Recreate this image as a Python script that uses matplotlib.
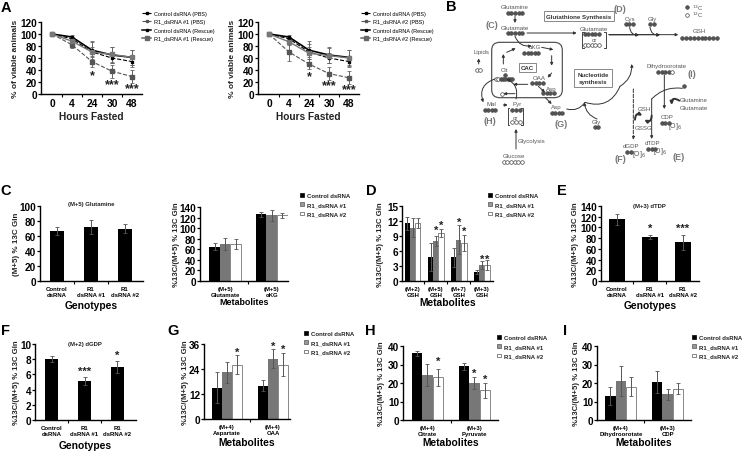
import matplotlib
matplotlib.use("Agg")
import matplotlib.pyplot as plt
from matplotlib.lines import Line2D
from matplotlib.patches import FancyBboxPatch, Patch

plt.rcParams["font.family"] = ["Liberation Sans", "DejaVu Sans"]

W, H = 742, 452
BLACK = "#000000"
GRAY = "#777777"
ERR = "#555555"
TXT = "#555555"

# =========================
# Data
# =========================
hours = ["0", "4", "24", "30", "48"]

a_ctrl_pbs = [100, 92, 70, 60, 54]
a_ctrl_pbs_err = [0, 3, 8, 8, 9]
a_ctrl_res = [100, 95, 73, 65, 61]
a_ctrl_res_err = [0, 3, 15, 13, 13]

a1_r1_pbs = [100, 82, 54, 38, 29]
a1_r1_pbs_err = [0, 5, 9, 11, 11]
a1_r1_res = [100, 88, 70, 66, 61]
a1_r1_res_err = [0, 5, 17, 12, 13]

a2_r1_pbs = [100, 70, 50, 34, 27]
a2_r1_pbs_err = [0, 15, 8, 11, 11]
a2_r1_res = [100, 87, 68, 64, 60]
a2_r1_res_err = [0, 5, 15, 13, 13]

a1_stars = [(2, 32, "*"), (3, 16, "***"), (4, 9, "***")]
a2_stars = [(2, 30, "*"), (3, 15, "***"), (4, 8, "***")]

genotypes = ["Control\ndsRNA", "R1\ndsRNA #1", "R1\ndsRNA #2"]

c1_vals = [67, 72, 70]
c1_err = [5, 9, 6]

c2_cats = ["(M+5)\nGlutamate", "(M+5)\nαKG"]
c2_ctrl = [65, 126]
c2_r1 = [70, 124]
c2_r2 = [70, 124]
c2_ctrl_err = [7, 4]
c2_r1_err = [12, 10]
c2_r2_err = [10, 4]

d_cats = ["(M+2)\nGSH", "(M+5)\nGSH", "(M+7)\nGSH", "(M+3)\nGSH"]
d_ctrl = [11.6, 4.9, 4.8, 1.9]
d_r1 = [10.7, 8.0, 8.3, 3.2]
d_r2 = [11.7, 9.7, 7.7, 3.2]
d_ctrl_err = [1.3, 2.8, 1.9, 0.4]
d_r1_err = [1.9, 1.0, 2.9, 0.8]
d_r2_err = [1.0, 0.8, 1.6, 1.0]
d_stars = [(1, 0, 10.2, "*"), (1, 1, 11.2, "*"), (2, 0, 11.8, "*"), (2, 1, 10.0, "*"),
           (3, 0, 4.4, "*"), (3, 1, 4.4, "*")]

e_vals = [115, 82, 72]
e_err = [11, 3, 14]

f_vals = [8.0, 5.1, 7.0]
f_err = [0.4, 0.5, 0.8]

g_cats = ["(M+4)\nAspartate", "(M+4)\nOAA"]
g_ctrl = [15, 16]
g_r1 = [22.5, 29]
g_r2 = [26, 26]
g_ctrl_err = [7.5, 2.5]
g_r1_err = [5, 4.5]
g_r2_err = [4.5, 5.5]

h_cats = ["(M+4)\nCitrate", "(M+3)\nPyruvate"]
h_ctrl = [36, 29]
h_r1 = [24.5, 20]
h_r2 = [23, 16]
h_ctrl_err = [1.5, 2]
h_r1_err = [6, 3]
h_r2_err = [4.5, 4]

i_cats = ["(M+4)\nDihydroorotate", "(M+3)\nCDP"]
i_ctrl = [13, 20.5]
i_r1 = [21, 14]
i_r2 = [18, 17]
i_ctrl_err = [5, 6]
i_r1_err = [8, 3]
i_r2_err = [5, 3]


fig = plt.figure(figsize=(W / 100, H / 100), dpi=100)


def px_axes(left, top, right, bottom):
    ax = fig.add_axes([left / W, 1 - bottom / H, (right - left) / W, (bottom - top) / H])
    ax.patch.set_alpha(0)
    ax.spines["top"].set_visible(False)
    ax.spines["right"].set_visible(False)
    ax.spines["left"].set_linewidth(1.0)
    ax.spines["bottom"].set_linewidth(1.0)
    return ax


def style_y(ax, ymax, step, ylabel, labelx, size=7.2, labelsize=5.8):
    ax.set_ylim(0, ymax)
    ax.set_yticks(range(0, ymax + 1, step))
    ax.tick_params(axis="y", length=2, width=0.9, pad=0.8)
    for t in ax.get_yticklabels():
        t.set_fontsize(size)
        t.set_fontweight("bold")
    ax.set_ylabel(ylabel, fontsize=labelsize, fontweight="bold", color="#222222")
    ax.yaxis.set_label_coords(labelx, 0.5)


def style_x(ax, n, labels, xlabel, xlim, labely=-0.25, size=4.3, xsize=7.4):
    ax.set_xlim(*xlim)
    ax.set_xticks(range(n))
    ax.set_xticklabels(labels, fontsize=size, fontweight="bold", linespacing=1.25)
    ax.set_xticks([i + 0.5 for i in range(n - 1)], minor=True)
    ax.tick_params(axis="x", which="major", length=0, pad=3.5)
    ax.tick_params(axis="x", which="minor", length=2, width=0.8)
    ax.set_xlabel(xlabel, fontsize=xsize, fontweight="bold")
    ax.xaxis.set_label_coords(0.5, labely)


def bars3(ax, ctrl, r1, r2, ctrl_err, r1_err, r2_err, width):
    ekw = dict(ecolor=ERR, elinewidth=0.7, capsize=1.2, capthick=0.6)
    xs = list(range(len(ctrl)))
    ax.bar([x - width for x in xs], ctrl, width, color=BLACK, yerr=ctrl_err, error_kw=ekw)
    ax.bar(xs, r1, width, color=GRAY, yerr=r1_err, error_kw=ekw)
    ax.bar([x + width for x in xs], r2, width, color="white", edgecolor="#888888",
           linewidth=0.7, yerr=r2_err, error_kw=ekw)


def bars1(ax, vals, errs, width):
    ekw = dict(ecolor=ERR, elinewidth=0.7, capsize=1.2, capthick=0.6)
    ax.bar(range(len(vals)), vals, width, color=BLACK, yerr=errs, error_kw=ekw)


def bar_legend(left, top):
    handles = [Patch(facecolor=BLACK, edgecolor=BLACK, linewidth=0.5),
               Patch(facecolor="#999999", edgecolor="#555555", linewidth=0.5),
               Patch(facecolor="white", edgecolor="#555555", linewidth=0.5)]
    labels = ["Control dsRNA", "R1_dsRNA #1", "R1_dsRNA #2"]
    leg = fig.legend(handles, labels, loc="upper left", bbox_to_anchor=(left / W, 1 - top / H),
                     frameon=False, fontsize=4.3, handlelength=0.6, handleheight=0.6,
                     handletextpad=0.55, labelspacing=0.72, borderpad=0, borderaxespad=0)
    for t in leg.get_texts():
        t.set_fontweight("bold")
        t.set_color("#222222")


def star(ax, x, y, s, size=8):
    ax.text(x, y, s, ha="center", va="center", fontsize=size, fontweight="bold", color="#222222")


def time_panel(box, r1_pbs, r1_pbs_err, r1_res, r1_res_err, stars, name, leg_x):
    ax = px_axes(*box)
    xs = list(range(len(hours)))
    ekw = dict(elinewidth=0.7, capsize=1.2, capthick=0.6, ecolor="#666666")
    ax.errorbar(xs, a_ctrl_pbs, yerr=a_ctrl_pbs_err, color=BLACK, ls="--", lw=0.8, marker="s", ms=2, **ekw)
    ax.errorbar(xs, r1_pbs, yerr=r1_pbs_err, color="#555555", ls="--", lw=0.8, marker="s", ms=2.5, **ekw)
    ax.errorbar(xs, a_ctrl_res, yerr=a_ctrl_res_err, color=BLACK, ls="-", lw=1.2, marker="s", ms=2, **ekw)
    ax.errorbar(xs, r1_res, yerr=r1_res_err, color="#777777", ls="-", lw=1.0, marker="s", ms=2.5, **ekw)
    ax.set_xlim(-0.55, 4.5)
    ax.set_xticks(xs)
    ax.set_xticklabels(hours, fontsize=7.4, fontweight="bold")
    ax.set_xticks([i + 0.5 for i in xs[:-1]], minor=True)
    ax.tick_params(axis="x", which="major", length=0, pad=3)
    ax.tick_params(axis="x", which="minor", length=2, width=0.8)
    ax.set_xlabel("Hours Fasted", fontsize=7.3, fontweight="bold", color="#222222")
    ax.xaxis.set_label_coords(0.5, -0.24)
    style_y(ax, 120, 20, "% of viable animals", -0.215, labelsize=6)
    for x, y, s in stars:
        star(ax, x, y, s, 9)

    top = [Line2D([], [], color=BLACK, ls="--", lw=0.8, marker="s", ms=1.5),
           Line2D([], [], color="#555555", ls="--", lw=0.8, marker="s", ms=2)]
    bot = [Line2D([], [], color=BLACK, lw=1.1, marker="s", ms=1.5),
           Line2D([], [], color="#666666", lw=1.1, marker="s", ms=2.5)]
    for hs, ls, y in [(top, ["Control dsRNA (PBS)", f"{name} (PBS)"], 12),
                      (bot, ["Control dsRNA (Rescue)", f"{name} (Rescue)"], 29)]:
        fig.legend(hs, ls, loc="upper left", bbox_to_anchor=(leg_x / W, 1 - y / H), frameon=False,
                   fontsize=4.0, handlelength=1.7, handletextpad=0.5, labelspacing=0.55,
                   borderpad=0, borderaxespad=0)
    return ax


# =========================
# Panel A
# =========================
time_panel((41, 23, 142, 95), a1_r1_pbs, a1_r1_pbs_err, a1_r1_res, a1_r1_res_err, a1_stars, "R1_dsRNA #1", 142)
time_panel((258, 23, 359, 95), a2_r1_pbs, a2_r1_pbs_err, a2_r1_res, a2_r1_res_err, a2_stars, "R1_dsRNA #2", 361)

# =========================
# Panel C
# =========================
ax = px_axes(40, 207, 143, 282)
bars1(ax, c1_vals, c1_err, 0.4)
style_y(ax, 100, 20, "(M+5) % 13C Gln", -0.194)
style_x(ax, 3, genotypes, "Genotypes", (-0.5, 2.53), labely=-0.25)
ax.set_title("(M+5) Glutamine", fontsize=4.3, fontweight="bold", pad=-1, color="#222222")

ax = px_axes(200, 208, 288, 282)
bars3(ax, c2_ctrl, c2_r1, c2_r2, c2_ctrl_err, c2_r1_err, c2_r2_err, 0.228)
style_y(ax, 140, 20, "%13C/(M+5) % 13C Gln", -0.227, labelsize=5.6)
style_x(ax, 2, c2_cats, "Metabolites", (-0.54, 1.35), labely=-0.22, xsize=6.4)
bar_legend(300, 194)

# =========================
# Panel D
# =========================
ax = px_axes(402, 207, 493, 282)
bars3(ax, d_ctrl, d_r1, d_r2, d_ctrl_err, d_r1_err, d_r2_err, 0.226)
style_y(ax, 15, 3, "%13C/(M+5) % 13C Gln", -0.2, labelsize=5.6)
style_x(ax, 4, d_cats, "Metabolites", (-0.465, 3.49), labely=-0.21)
for g, b, y, s in d_stars:
    star(ax, g + b * 0.226, y, s)
bar_legend(488, 194)

# =========================
# Panel E
# =========================
ax = px_axes(600.7, 207, 699, 282)
bars1(ax, e_vals, e_err, 0.485)
style_y(ax, 140, 20, "%13C/(M+5) % 13C Gln", -0.22, labelsize=5.6)
style_x(ax, 3, genotypes, "Genotypes", (-0.485, 2.49), labely=-0.26)
ax.text(1, 140, "(M+3) dTDP", ha="center", va="center", fontsize=4.3, fontweight="bold", color="#222222")
star(ax, 1, 99, "*")
star(ax, 2, 100, "***")

# =========================
# Panel F
# =========================
ax = px_axes(35, 345, 136, 421)
bars1(ax, f_vals, f_err, 0.4)
style_y(ax, 10, 2, "%13C/(M+5) % 13C Gln", -0.15, labelsize=5.6)
style_x(ax, 3, genotypes, "Genotypes", (-0.52, 2.58), labely=-0.26)
ax.text(1, 10, "(M+2) dGDP", ha="center", va="center", fontsize=4.3, fontweight="bold", color="#222222")
star(ax, 1, 6.5, "***")
star(ax, 2, 8.6, "*")

# =========================
# Panel G
# =========================
ax = px_axes(204, 345, 290, 420)
bars3(ax, g_ctrl, g_r1, g_r2, g_ctrl_err, g_r1_err, g_r2_err, 0.224)
style_y(ax, 36, 12, "%13C/(M+5) % 13C Gln", -0.175, labelsize=5.6)
style_x(ax, 2, g_cats, "Metabolites", (-0.5, 1.37), labely=-0.24)
star(ax, 0.224, 32, "*")
star(ax, 1, 35, "*")
star(ax, 1.224, 33.5, "*")
bar_legend(304, 332)

# =========================
# Panel H
# =========================
ax = px_axes(403, 347, 498, 421)
bars3(ax, h_ctrl, h_r1, h_r2, h_ctrl_err, h_r1_err, h_r2_err, 0.224)
style_y(ax, 40, 10, "%13C/(M+5) % 13C Gln", -0.19, labelsize=5.6)
style_x(ax, 2, h_cats, "Metabolites", (-0.52, 1.5), labely=-0.23)
star(ax, 0.224, 32, "*")
star(ax, 1, 25.5, "*")
star(ax, 1.224, 22.5, "*")
bar_legend(497, 336)

# =========================
# Panel I
# =========================
ax = px_axes(597, 347, 691, 421)
bars3(ax, i_ctrl, i_r1, i_r2, i_ctrl_err, i_r1_err, i_r2_err, 0.222)
style_y(ax, 40, 10, "%13C/(M+5) % 13C Gln", -0.18, labelsize=5.6)
style_x(ax, 2, i_cats, "Metabolites", (-0.51, 1.5), labely=-0.23)
bar_legend(692, 336)

# =========================
# Panel B: pathway schematic, in 3x crop units
# =========================
sc = fig.add_axes([435 / W, 1 - 175 / H, 307 / W, 175 / H])
sc.set_xlim(0, 921)
sc.set_ylim(525, 0)
sc.axis("off")


def label(x, y, s, size=4.4, weight="normal", color=TXT, **kw):
    sc.text(x, y, s, ha="center", va="center", fontsize=size, fontweight=weight, color=color, **kw)


def dots(x0, y, pattern, step=10.5):
    for i, c in enumerate(pattern):
        face = "#555555" if c == "1" else "white"
        sc.plot(x0 + i * step, y, "o", ms=2.6, mfc=face, mec="#444444", mew=0.5)


def arrow(a, b, rad=0.0, style="-|>", ls="-", lw=0.7):
    sc.annotate("", xy=b, xytext=a, arrowprops=dict(
        arrowstyle=style, lw=lw, ls=ls, color="#333333", mutation_scale=4,
        shrinkA=0, shrinkB=0, connectionstyle=f"arc3,rad={rad}"))


def bracket(x0, x1, y0, y1):
    sc.plot([x0 + 5, x0, x0, x0 + 5], [y0, y0, y1, y1], color="#444444", lw=0.7)
    sc.plot([x1 - 5, x1, x1, x1 - 5], [y0, y0, y1, y1], color="#444444", lw=0.7)


for x, y, s in [(170, 77, "(C)"), (556, 30, "(D)"), (166, 365, "(H)"), (377, 373, "(G)"),
                (770, 223, "(I)"), (555, 480, "(F)"), (730, 472, "(E)")]:
    label(x, y, s, size=6.5, weight="bold", color="#777777")

for x, y, s in [(240, 22, "Glutamine"), (240, 84, "Glutamate"), (478, 88, "Glutamate"), (584, 58, "Cys"),
                (652, 58, "Gly"), (792, 95, "GSH"), (300, 143, "αKG"), (209, 212, "Cit"),
                (141, 157, "Lipids"), (313, 237, "OAA"), (349, 268, "Asp"), (170, 314, "Mal"),
                (247, 314, "Pyr"), (291, 426, "Glycolysis"), (237, 470, "Glucose"), (365, 322, "Asp"),
                (485, 368, "Gly"), (694, 200, "Dihydroorotate"), (776, 302, "Glutamine"),
                (776, 324, "Glutamate"), (697, 352, "CDP"), (627, 328, "GSH"), (625, 385, "GSSG"),
                (588, 440, "dGDP"), (652, 430, "dTDP"), (240, 354, "or"), (478, 122, "or")]:
    label(x, y, s)

label(432, 52, "Glutathione Synthesis", weight="bold", color="#333333",
      bbox=dict(boxstyle="square,pad=0.4", fc="white", ec="#888888", lw=0.7))
label(277, 205, "CAC", weight="bold", color="#333333",
      bbox=dict(boxstyle="square,pad=0.3", fc="white", ec="#888888", lw=0.7))
label(475, 237, "Nucleotide\nsynthesis", weight="bold", color="#333333", linespacing=1.4,
      bbox=dict(boxstyle="square,pad=0.55", fc="white", ec="#888888", lw=0.7))

sc.add_patch(FancyBboxPatch((170, 130), 212, 166, boxstyle="round,pad=0,rounding_size=24",
                            fc="none", ec="#555555", lw=0.9))

dots(219, 42, "11111")
dots(219, 102, "11111")
dots(449, 106, "11111")
dots(449, 139, "00000")
dots(572, 74, "111")
dots(645, 74, "11")
dots(742, 116, "1111111111", step=11.5)
dots(268, 162, "11111")
dots(209, 228, "1")
dots(183, 241, "00111111", step=7)
dots(292, 252, "1111")
dots(325, 283, "1111")
dots(126, 212, "00", step=8)
dots(150, 333, "1111")
dots(232, 334, "111", step=12)
dots(232, 369, "000", step=12)
dots(207, 490, "000000")
dots(350, 342, "1111")
dots(479, 385, "11")
dots(670, 218, "11110")
dots(680, 372, "111")
dots(576, 458, "11")
dots(640, 450, "111")
dots(748, 262, "1")
dots(200, 284, "0")
dots(757, 25, "1")
dots(757, 47, "0")

label(790, 25, "$^{13}$C")
label(790, 47, "$^{12}$C")
label(721, 378, "[O]$_6$", size=5)
label(612, 463, "[O]$_6$", size=5)
label(676, 455, "[O]$_6$", size=5)

bracket(218, 264, 328, 378)
bracket(441, 512, 100, 146)

arrow((240, 52), (240, 72))
arrow((276, 102), (425, 102))
arrow((240, 112), (290, 140), rad=0.4)
arrow((522, 107), (730, 107))
arrow((522, 107), (612, 107))
arrow((522, 107), (675, 107))
arrow((584, 85), (612, 107), rad=0.5)
arrow((645, 85), (675, 107), rad=0.5)
arrow((131, 195), (131, 178))
arrow((350, 170), (350, 200))
arrow((205, 195), (205, 165))
arrow((320, 145), (355, 152))
arrow((215, 160), (242, 148))
arrow((350, 222), (338, 236))
arrow((310, 262), (330, 280))
arrow((243, 300), (215, 240), rad=0.4)
arrow((278, 256), (235, 256))
arrow((240, 284), (205, 284))
arrow((180, 240), (145, 310), rad=0.5)
arrow((205, 318), (218, 318))
arrow((330, 295), (350, 315))
arrow((243, 450), (243, 390))
arrow((395, 330), (450, 310), rad=0.35, style="-")
arrow((450, 310), (555, 262), rad=0.45, style="-")
arrow((555, 262), (590, 195), rad=0.3)
arrow((486, 360), (448, 310), rad=-0.3)
arrow((688, 228), (688, 330))
arrow((650, 420), (650, 300), style="<|-")
arrow((650, 300), (742, 268), rad=-0.25, style="-")
arrow((595, 270), (595, 422), ls="--")
arrow((733, 305), (710, 318), rad=0.9, lw=1.4)
arrow((600, 362), (622, 350), rad=-0.8, lw=1.4)
arrow((650, 350), (628, 362), rad=-0.8, lw=1.4)

# =========================
# Panel letters
# =========================
for x, y, s in [(6, 8, "A"), (451, 7, "B"), (6, 191, "C"), (371, 191, "D"), (562, 191, "E"),
                (6, 331, "F"), (173, 331, "G"), (370, 331, "H"), (565, 331, "I")]:
    fig.text(x / W, 1 - y / H, s, fontsize=10.5, fontweight="bold", ha="center", va="center")

fig.savefig("out.png", dpi=100)
